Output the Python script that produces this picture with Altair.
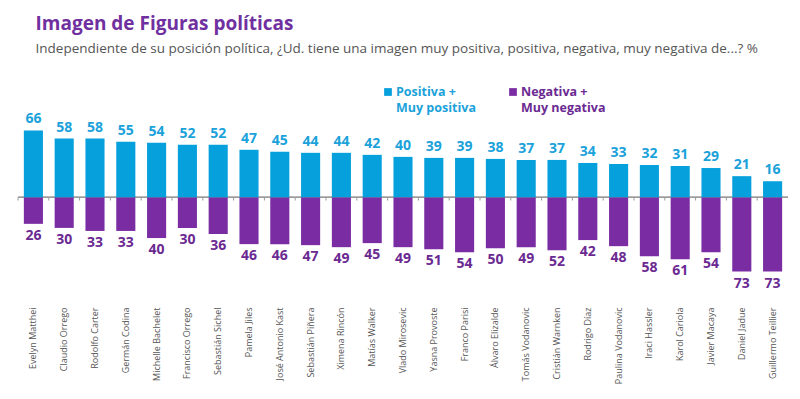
import altair as alt
import pandas as pd

names = ["Evelyn Matthei", "Claudio Orrego", "Rodolfo Carter", "Germán Codina",
         "Michelle Bachelet", "Francisco Orrego", "Sebastián Sichel", "Pamela Jiles",
         "José Antonio Kast", "Sebastián Piñera", "Ximena Rincón", "Matías Walker",
         "Vlado Mirosevic", "Yasna Provoste", "Franco Parisi", "Álvaro Elizalde",
         "Tomás Vodanovic", "Cristián Warnken", "Rodrigo Díaz", "Paulina Vodanovic",
         "Iraci Hassler", "Karol Cariola", "Javier Macaya", "Daniel Jadue", "Guillermo Teillier"]
positive = [66, 58, 58, 55, 54, 52, 52, 47, 45, 44, 44, 42, 40, 39, 39, 38, 37, 37, 34, 33, 32, 31, 29, 21, 16]
negative = [26, 30, 33, 33, 40, 30, 36, 46, 46, 47, 49, 45, 49, 51, 54, 50, 49, 52, 42, 48, 58, 61, 54, 73, 73]
legend_line1 = ["Positiva +", "Negativa +"]
legend_line2 = ["Muy positiva", "Muy negativa"]

BLUE = "#06A0DC"
PURPLE = "#7A2DA2"
PURPLE_TXT = "#6B2A92"
BLUE_TXT = "#1BA2DA"
FONT = "Open Sans"

df = pd.DataFrame({"name": names, "pos": positive, "neg": negative})
df["negv"] = -df["neg"]
df["z"] = 0
df["zt"] = -3

W, H = 770, 208
STEP = W / 25.0
xs = alt.Scale(domain=names, paddingInner=0.38, paddingOuter=0.19)
ys = alt.Scale(domain=[-105, 100], nice=False, zero=False)

X = alt.X("name:N", scale=xs, title=None,
          axis=alt.Axis(labelAngle=-90, labelAlign="right", labelBaseline="middle",
                        domain=False, ticks=False, labelPadding=3, labelFont=FONT,
                        labelFontSize=9, labelColor="#555555", labelLimit=200))


def Y(field):
    return alt.Y(field, scale=ys, axis=None)


base = alt.Chart(df)

pos_bar = base.mark_bar(color=BLUE).encode(x=X, y=Y("pos:Q"), y2="z:Q")
neg_bar = base.mark_bar(color=PURPLE).encode(x=X, y=Y("negv:Q"), y2="z:Q")

pos_txt = base.mark_text(baseline="bottom", dy=-4, font=FONT, fontWeight="bold",
                         fontSize=14, color=BLUE_TXT).encode(
    x=X, y=Y("pos:Q"), text="pos:Q")
neg_txt = base.mark_text(baseline="top", dy=5, font=FONT, fontWeight="bold",
                         fontSize=14, color=PURPLE_TXT).encode(
    x=X, y=Y("negv:Q"), text="neg:Q")

zero = base.mark_rule(color="#9a9a9a", strokeWidth=1).encode(
    y=Y("z:Q"), x=alt.value(0), x2=alt.value(W))
ticks = base.mark_rule(color="#9a9a9a", strokeWidth=1, xOffset=-STEP / 2).encode(
    x=X, y=Y("z:Q"), y2="zt:Q")

leg = pd.DataFrame({"l1": legend_line1, "l2": legend_line2})

layers = [zero, ticks, pos_bar, neg_bar, pos_txt, neg_txt]
for i, (sx, col, tcol) in enumerate([(370, BLUE, BLUE_TXT), (495, PURPLE, PURPLE_TXT)]):
    src = alt.Chart(leg.iloc[[i]].reset_index(drop=True))
    layers.append(src.mark_square(size=60, color=col, opacity=1).encode(
        x=alt.value(sx), y=alt.value(-4)))
    layers.append(src.mark_text(align="left", baseline="middle", font=FONT, fontWeight="bold",
                                fontSize=12.5, color=tcol).encode(
        x=alt.value(sx + 8), y=alt.value(-4), text="l1:N"))
    layers.append(src.mark_text(align="left", baseline="middle", font=FONT, fontWeight="bold",
                                fontSize=12.5, color=tcol).encode(
        x=alt.value(sx + 8), y=alt.value(12), text="l2:N"))

chart = alt.layer(*layers).properties(
    width=W, height=H,
    autosize=alt.AutoSizeParams(type="none"),
    padding={"left": 10, "top": 88, "right": 4, "bottom": 80},
    title=alt.TitleParams(
        text="Imagen de Figuras políticas",
        subtitle="Independiente de su posición política, ¿Ud. tiene una imagen muy positiva, positiva, negativa, muy negativa de...? %",
        anchor="start", dx=18, offset=31, font=FONT, fontSize=19, fontWeight="bold",
        color="#7030A0", subtitleFont=FONT, subtitleFontSize=13.5, subtitleColor="#555555",
        subtitlePadding=8),
).configure_view(strokeWidth=0)

chart.save("out.html", embed_options={"renderer": "svg", "actions": False})
